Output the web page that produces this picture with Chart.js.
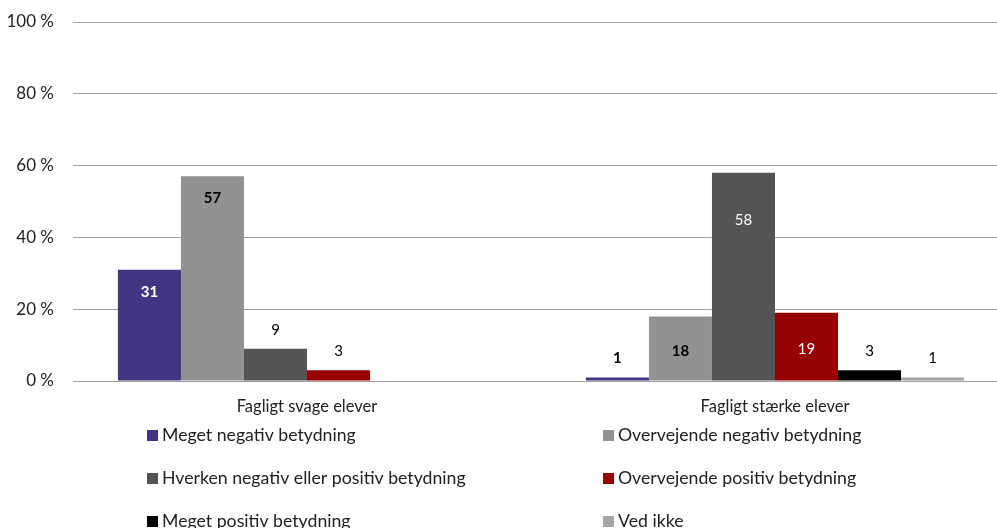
<!DOCTYPE html>
<html>
<head>
<meta charset="utf-8">
<script src="https://cdn.jsdelivr.net/npm/chart.js@4.4.0/dist/chart.umd.min.js"></script>
<style>
  html, body { margin: 0; padding: 0; overflow: hidden; background: #fff; }
  #wrap { width: 1010px; height: 560px; }
</style>
</head>
<body>
<div id="wrap"><canvas id="graf"></canvas></div>
<script>
const kategorier = ['Fagligt svage elever', 'Fagligt stærke elever'];
const serier = [
  'Meget negativ betydning',
  'Overvejende negativ betydning',
  'Hverken negativ eller positiv betydning',
  'Overvejende positiv betydning',
  'Meget positiv betydning',
  'Ved ikke'
];
const megetNegativ = [31, 1];
const overvejendeNegativ = [57, 18];
const hverken = [9, 58];
const overvejendePositiv = [3, 19];
const megetPositiv = [null, 3];
const vedIkke = [null, 1];
const yTicks = [0, 20, 40, 60, 80, 100];

const FONT = 'Lato';
Chart.defaults.font.family = FONT;
Chart.defaults.color = '#222';

// tal på søjlerne (ingen datalabels-plugin til rådighed)
const etiketter = {
  id: 'etiketter',
  afterDatasetsDraw(chart) {
    const ctx = chart.ctx;
    ctx.save();
    ctx.textAlign = 'center';
    ctx.textBaseline = 'middle';
    chart.data.datasets.forEach((ds, i) => {
      chart.getDatasetMeta(i).data.forEach((bar, j) => {
        const v = ds.data[j];
        if (v == null) return;
        let y, color = ds.labelColor;
        if (v < 10) {
          y = bar.y - 19;
          color = '#000';
        } else if (v < 25) {
          y = (bar.y + bar.base) / 2 + 3;
        } else {
          y = bar.y + ds.labelOffset;
        }
        ctx.fillStyle = color;
        ctx.font = (ds.labelBold ? 'bold ' : '') + '15px ' + FONT;
        ctx.fillText(String(v), bar.x, y);
      });
    });
    ctx.restore();
  }
};

// forklaring i to kolonner
const forklaring = {
  id: 'forklaring',
  afterDraw(chart) {
    const ctx = chart.ctx;
    const a = chart.chartArea;
    const cols = [a.left + 74, a.left + 530];
    ctx.save();
    ctx.font = '17.7px ' + FONT;
    ctx.textBaseline = 'middle';
    ctx.textAlign = 'left';
    chart.data.datasets.forEach((ds, i) => {
      const x = cols[i % 2];
      const y = a.bottom + 54 + Math.floor(i / 2) * 43;
      ctx.fillStyle = ds.backgroundColor;
      ctx.fillRect(x, y - 5, 11, 11);
      ctx.fillStyle = '#222';
      ctx.fillText(ds.label, x + 15, y);
    });
    ctx.restore();
  }
};

const data = {
  labels: kategorier,
  datasets: [
    { label: serier[0], data: megetNegativ, backgroundColor: '#413480', labelColor: '#fff', labelBold: true, labelOffset: 22 },
    { label: serier[1], data: overvejendeNegativ, backgroundColor: '#929292', labelColor: '#000', labelBold: true, labelOffset: 22 },
    { label: serier[2], data: hverken, backgroundColor: '#545454', labelColor: '#fff', labelBold: false, labelOffset: 47 },
    { label: serier[3], data: overvejendePositiv, backgroundColor: '#960000', labelColor: '#fff', labelBold: false, labelOffset: 22 },
    { label: serier[4], data: megetPositiv, backgroundColor: '#000000', labelColor: '#fff', labelBold: false, labelOffset: 22 },
    { label: serier[5], data: vedIkke, backgroundColor: '#a6a6a6', labelColor: '#000', labelBold: false, labelOffset: 22 }
  ]
};

new Chart(document.getElementById('graf'), {
  type: 'bar',
  data: data,
  plugins: [etiketter, forklaring],
  options: {
    responsive: true,
    maintainAspectRatio: false,
    animation: false,
    categoryPercentage: 0.808,
    barPercentage: 1,
    layout: { padding: { top: 22, right: 1, bottom: 143, left: 0 } },
    plugins: {
      legend: { display: false },
      tooltip: { enabled: false }
    },
    scales: {
      x: {
        grid: { display: false, drawTicks: false },
        border: { color: '#a0a0a0', width: 1 },
        ticks: { padding: 16, font: { size: 16.5 }, color: '#222' },
        afterFit: s => { s.height = 36; }
      },
      y: {
        min: 0,
        max: 100,
        afterBuildTicks: s => { s.ticks = yTicks.map(v => ({ value: v })); },
        grid: { color: '#a0a0a0', drawTicks: true, tickLength: 19, tickColor: 'rgba(0,0,0,0)' },
        border: { display: false },
        ticks: { padding: 0, font: { size: 17 }, color: '#222', callback: v => v + ' %' },
        afterFit: s => { s.width = 73; }
      }
    }
  }
});
</script>
</body>
</html>
